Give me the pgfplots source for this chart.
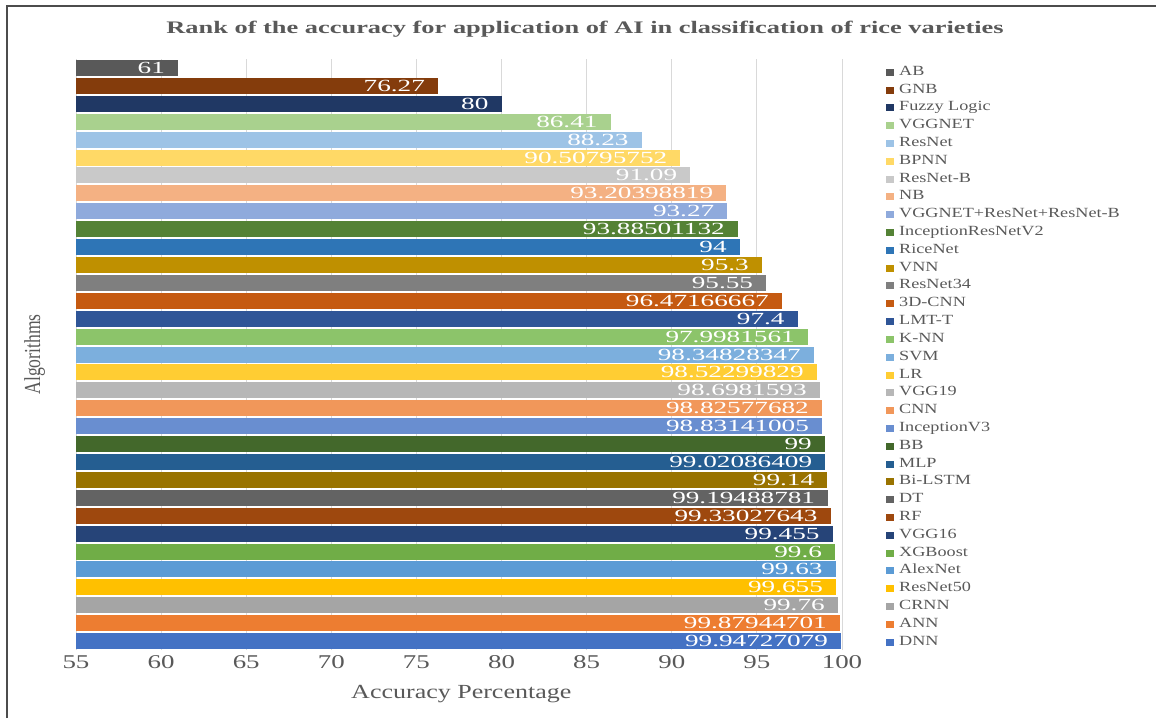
\documentclass[border=0pt]{standalone}
\usepackage{fontspec}
\setmainfont{Liberation Serif}
\newfontfamily\barfont[FakeStretch=1.6]{Liberation Serif}
\newfontfamily\tickfont[FakeStretch=1.38]{Liberation Serif}
\newfontfamily\xlabfont[FakeStretch=1.3]{Liberation Serif}
\newfontfamily\titlefont[FakeStretch=1.5]{Liberation Serif}
\newfontfamily\legfont[FakeStretch=1.3]{Liberation Serif}
\usepackage{graphicx}
\usepackage{pgfplots}
\pgfplotsset{compat=1.18}
\definecolor{txt}{HTML}{595959}
\definecolor{cAB}{HTML}{595959}
\definecolor{cGNB}{HTML}{843C0C}
\definecolor{cFuzzy}{HTML}{203864}
\definecolor{cVGGNET}{HTML}{A9D18E}
\definecolor{cResNet}{HTML}{9DC3E6}
\definecolor{cBPNN}{HTML}{FFD966}
\definecolor{cResNetB}{HTML}{C9C9C9}
\definecolor{cNB}{HTML}{F4B183}
\definecolor{cCombo}{HTML}{8FAADC}
\definecolor{cIRV2}{HTML}{548235}
\definecolor{cRiceNet}{HTML}{2E75B6}
\definecolor{cVNN}{HTML}{BF9000}
\definecolor{cResNet34}{HTML}{7F7F7F}
\definecolor{c3DCNN}{HTML}{C55A11}
\definecolor{cLMT}{HTML}{2F5597}
\definecolor{cKNN}{HTML}{8CC46A}
\definecolor{cSVM}{HTML}{7CAFDD}
\definecolor{cLR}{HTML}{FFCD33}
\definecolor{cVGG19}{HTML}{B7B7B7}
\definecolor{cCNN}{HTML}{F1975A}
\definecolor{cIV3}{HTML}{698ED0}
\definecolor{cBB}{HTML}{43682B}
\definecolor{cMLP}{HTML}{255E91}
\definecolor{cBiLSTM}{HTML}{997300}
\definecolor{cDT}{HTML}{636363}
\definecolor{cRF}{HTML}{9E480E}
\definecolor{cVGG16}{HTML}{264478}
\definecolor{cXGB}{HTML}{70AD47}
\definecolor{cAlex}{HTML}{5B9BD5}
\definecolor{cRes50}{HTML}{FFC000}
\definecolor{cCRNN}{HTML}{A5A5A5}
\definecolor{cANN}{HTML}{ED7D31}
\definecolor{cDNN}{HTML}{4472C4}
\begin{document}
\begin{tikzpicture}
\useasboundingbox (0pt,0pt) rectangle (1156pt,-718pt);
\draw[color=black!70, line width=2pt] (7pt,-718pt) -- (7pt,-6pt) -- (1156pt,-6pt);
\node[font=\titlefont\bfseries\fontsize{17.6}{20}\selectfont, text=txt] at (585pt,-29pt) {Rank of the accuracy for application of AI in classification of rice varieties};
\begin{axis}[
  at={(76pt,-650pt)}, anchor=south west,
  width=766pt, height=591pt, scale only axis,
  xbar, bar shift=0pt, bar width=16pt,
  xmin=55, xmax=100, ymin=-0.5, ymax=32.5,
  xtick={55,60,...,100}, ytick=\empty,
  xmajorgrids, grid style={draw=black!15, line width=0.8pt},
  axis line style={draw=none}, major tick length=0pt,
  /pgf/number format/assume math mode=true,
  xticklabel style={font=\tickfont\fontsize{19.5}{22}\selectfont, text=txt, yshift=-2pt},
  xlabel={Accuracy Percentage},
  xlabel style={font=\xlabfont\fontsize{20}{22}\selectfont, text=txt, at={(axis description cs:0.503,-0.0745)}, anchor=center},
  ylabel={\scalebox{1}[1.3]{Algorithms}},
  ylabel style={font=\fontsize{17.6}{20}\selectfont, text=txt, at={(axis description cs:-0.054,0.5)}, anchor=center, rotate=0},
  point meta=explicit symbolic,
  nodes near coords,
  every node near coord/.style={anchor=east, inner sep=0pt, xshift=-13pt, text=white, font=\barfont\fontsize{17}{18}\selectfont},
  every axis plot/.append style={draw=none},
  legend image code/.code={\fill[#1] (0pt,-3.5pt) rectangle (8pt,3.5pt);},
  legend cell align=left,
  legend style={draw=none, fill=none, at={(axis description cs:1.0574,0.9881)}, anchor=north west, inner sep=0pt, row sep=5.81pt,
    nodes={inner sep=0pt, text height=9pt, text depth=3pt, font=\legfont\fontsize{14}{16}\selectfont, text=txt},
    /tikz/every odd column/.append style={column sep=5pt}},
]
\addplot[fill=cAB] coordinates {(61,32) [61]};
\addlegendentry{AB}
\addplot[fill=cGNB] coordinates {(76.27,31) [76.27]};
\addlegendentry{GNB}
\addplot[fill=cFuzzy] coordinates {(80,30) [80]};
\addlegendentry{Fuzzy Logic}
\addplot[fill=cVGGNET] coordinates {(86.41,29) [86.41]};
\addlegendentry{VGGNET}
\addplot[fill=cResNet] coordinates {(88.23,28) [88.23]};
\addlegendentry{ResNet}
\addplot[fill=cBPNN] coordinates {(90.50795752,27) [90.50795752]};
\addlegendentry{BPNN}
\addplot[fill=cResNetB] coordinates {(91.09,26) [91.09]};
\addlegendentry{ResNet-B}
\addplot[fill=cNB] coordinates {(93.20398819,25) [93.20398819]};
\addlegendentry{NB}
\addplot[fill=cCombo] coordinates {(93.27,24) [93.27]};
\addlegendentry{VGGNET+ResNet+ResNet-B}
\addplot[fill=cIRV2] coordinates {(93.88501132,23) [93.88501132]};
\addlegendentry{InceptionResNetV2}
\addplot[fill=cRiceNet] coordinates {(94,22) [94]};
\addlegendentry{RiceNet}
\addplot[fill=cVNN] coordinates {(95.3,21) [95.3]};
\addlegendentry{VNN}
\addplot[fill=cResNet34] coordinates {(95.55,20) [95.55]};
\addlegendentry{ResNet34}
\addplot[fill=c3DCNN] coordinates {(96.47166667,19) [96.47166667]};
\addlegendentry{3D-CNN}
\addplot[fill=cLMT] coordinates {(97.4,18) [97.4]};
\addlegendentry{LMT-T}
\addplot[fill=cKNN] coordinates {(97.9981561,17) [97.9981561]};
\addlegendentry{K-NN}
\addplot[fill=cSVM] coordinates {(98.34828347,16) [98.34828347]};
\addlegendentry{SVM}
\addplot[fill=cLR] coordinates {(98.52299829,15) [98.52299829]};
\addlegendentry{LR}
\addplot[fill=cVGG19] coordinates {(98.6981593,14) [98.6981593]};
\addlegendentry{VGG19}
\addplot[fill=cCNN] coordinates {(98.82577682,13) [98.82577682]};
\addlegendentry{CNN}
\addplot[fill=cIV3] coordinates {(98.83141005,12) [98.83141005]};
\addlegendentry{InceptionV3}
\addplot[fill=cBB] coordinates {(99,11) [99]};
\addlegendentry{BB}
\addplot[fill=cMLP] coordinates {(99.02086409,10) [99.02086409]};
\addlegendentry{MLP}
\addplot[fill=cBiLSTM] coordinates {(99.14,9) [99.14]};
\addlegendentry{Bi-LSTM}
\addplot[fill=cDT] coordinates {(99.19488781,8) [99.19488781]};
\addlegendentry{DT}
\addplot[fill=cRF] coordinates {(99.33027643,7) [99.33027643]};
\addlegendentry{RF}
\addplot[fill=cVGG16] coordinates {(99.455,6) [99.455]};
\addlegendentry{VGG16}
\addplot[fill=cXGB] coordinates {(99.6,5) [99.6]};
\addlegendentry{XGBoost}
\addplot[fill=cAlex] coordinates {(99.63,4) [99.63]};
\addlegendentry{AlexNet}
\addplot[fill=cRes50] coordinates {(99.655,3) [99.655]};
\addlegendentry{ResNet50}
\addplot[fill=cCRNN] coordinates {(99.76,2) [99.76]};
\addlegendentry{CRNN}
\addplot[fill=cANN] coordinates {(99.87944701,1) [99.87944701]};
\addlegendentry{ANN}
\addplot[fill=cDNN] coordinates {(99.94727079,0) [99.94727079]};
\addlegendentry{DNN}
\end{axis}
\end{tikzpicture}
\end{document}
